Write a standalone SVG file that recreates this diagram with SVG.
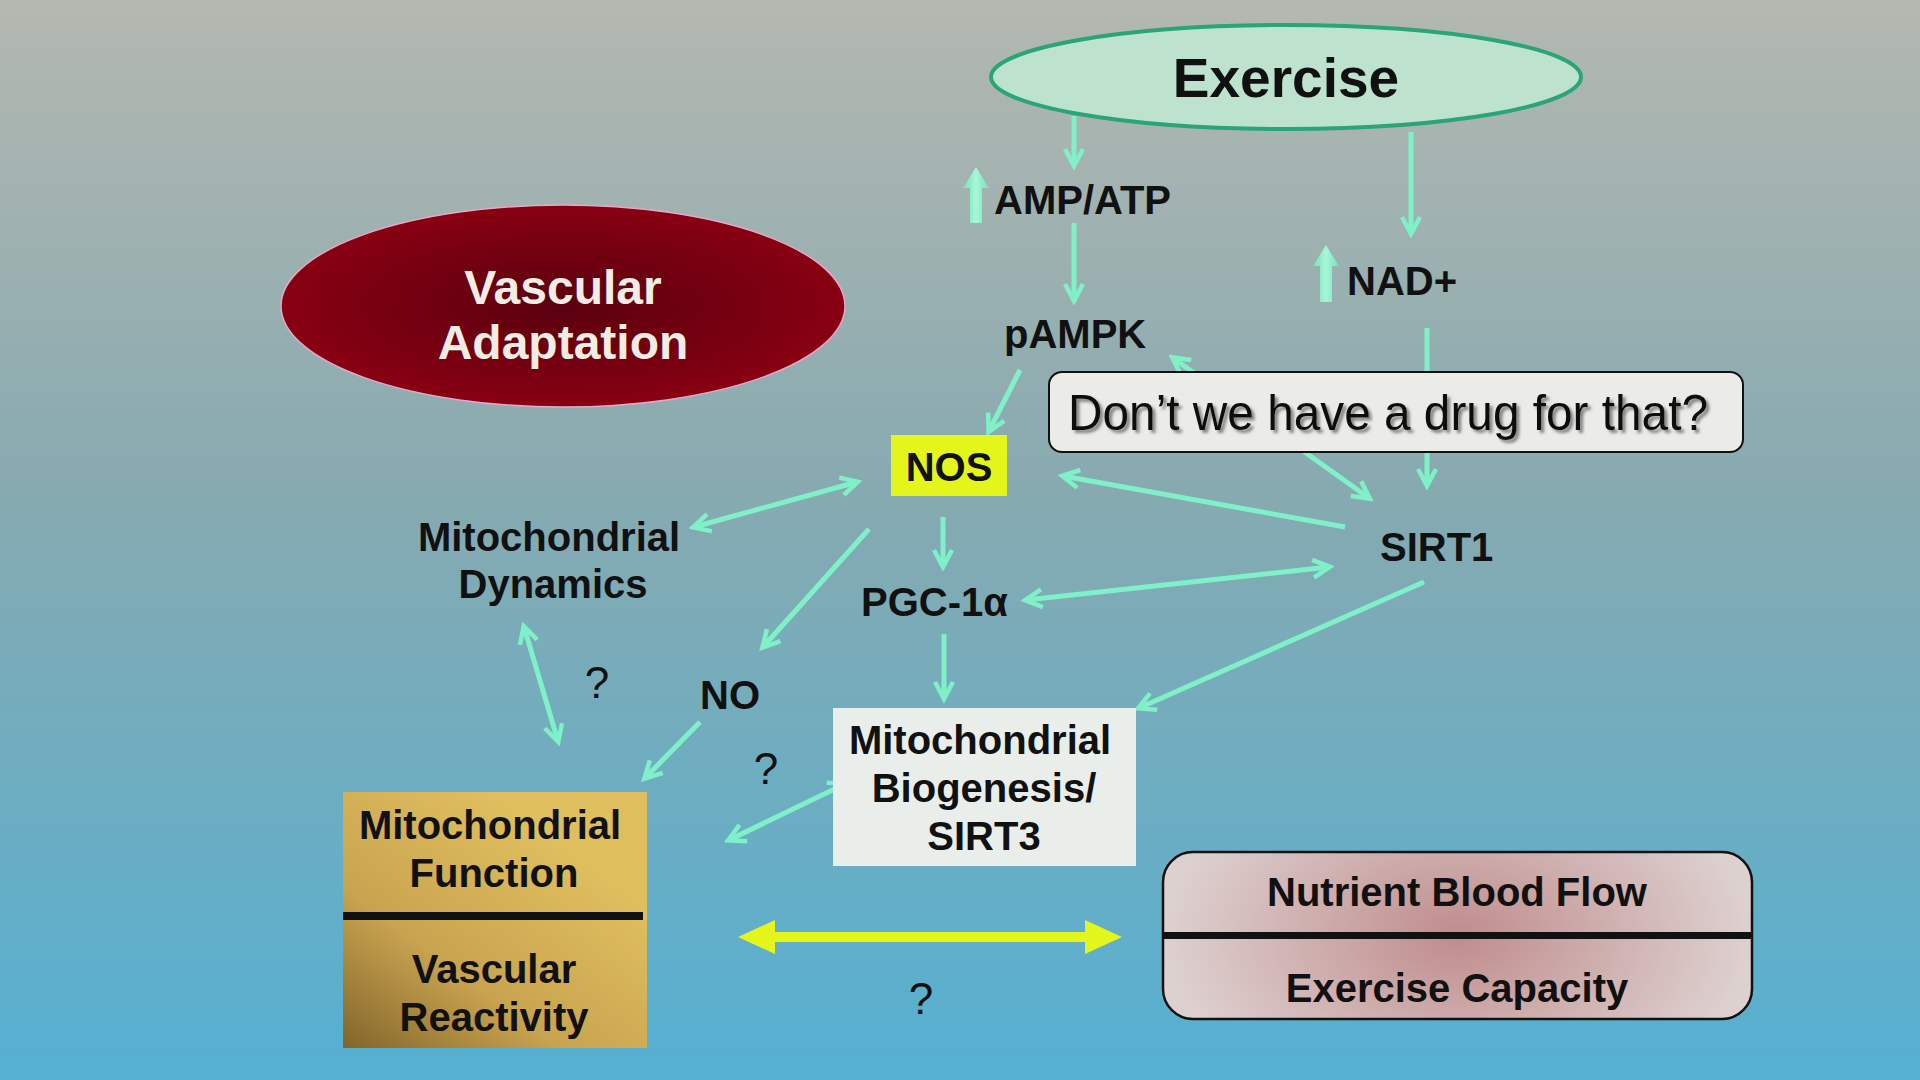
<svg xmlns="http://www.w3.org/2000/svg" width="1920" height="1080" viewBox="0 0 1920 1080">
<defs>
<linearGradient id="bg" x1="0" y1="0" x2="0" y2="1">
<stop offset="0" stop-color="#b4b8b0"/>
<stop offset="0.45" stop-color="#87aab0"/>
<stop offset="1" stop-color="#55b0d2"/>
</linearGradient>
<radialGradient id="vasc" cx="0.5" cy="0.5" r="0.5">
<stop offset="0" stop-color="#5a000f"/>
<stop offset="1" stop-color="#880012"/>
</radialGradient>
<linearGradient id="gold" x1="0" y1="1" x2="0.7" y2="0.2">
<stop offset="0" stop-color="#83652b"/>
<stop offset="0.45" stop-color="#c9a450"/>
<stop offset="1" stop-color="#dfbe5e"/>
</linearGradient>
<radialGradient id="pink" cx="0.5" cy="0.5" r="0.5" gradientTransform="translate(0.5 0.5) scale(1 2.2) translate(-0.5 -0.5)">
<stop offset="0" stop-color="#c08c8c"/>
<stop offset="1" stop-color="#ddd1d0"/>
</radialGradient>
<linearGradient id="upg" x1="0" y1="0" x2="1" y2="0">
<stop offset="0" stop-color="#6fe0b8"/>
<stop offset="0.5" stop-color="#a8f7d8"/>
<stop offset="1" stop-color="#6fe0b8"/>
</linearGradient>
<marker id="ah" viewBox="0 0 24 24" markerWidth="24" markerHeight="24" refX="19" refY="12" orient="auto-start-reverse" markerUnits="userSpaceOnUse">
<path d="M3,3 L20,12 L3,21" fill="none" stroke="#80f0c8" stroke-width="4.5" stroke-linejoin="miter"/>
</marker>
<filter id="sh" x="-5%" y="-20%" width="110%" height="140%">
<feDropShadow dx="3" dy="3" stdDeviation="1.5" flood-color="#555" flood-opacity="0.7"/>
</filter>
<style>
.lbl{font-family:"Liberation Sans",Arial,sans-serif;font-weight:bold;font-size:40px;fill:#111;}
.c{text-anchor:middle;}
.q{font-family:"Liberation Sans",Arial,sans-serif;font-size:44px;fill:#111;text-anchor:middle;}
.ln{stroke:#80f0c8;stroke-width:5;fill:none;}
.one{marker-end:url(#ah);}
.two{marker-start:url(#ah);marker-end:url(#ah);}
.up{fill:url(#upg);}
</style>
</defs>
<rect x="0" y="0" width="1920" height="1080" fill="url(#bg)"/>

<g id="connectors">
<line class="ln one" x1="1074" y1="116" x2="1074" y2="165"/>
<line class="ln one" x1="1074" y1="223" x2="1074" y2="300"/>
<line class="ln one" x1="1411" y1="132" x2="1411" y2="233"/>
<line class="ln one" x1="1427" y1="328" x2="1427" y2="485"/>
<line class="ln two" x1="1173" y1="358" x2="1369" y2="498"/>
<line class="ln one" x1="1020" y1="370" x2="989" y2="431"/>
<line class="ln one" x1="1345" y1="527" x2="1063" y2="476"/>
<line class="ln two" x1="857" y1="482" x2="694" y2="527"/>
<line class="ln one" x1="943" y1="517" x2="943" y2="566"/>
<line class="ln one" x1="869" y1="529" x2="763" y2="647"/>
<line class="ln two" x1="1329" y1="567" x2="1026" y2="600"/>
<line class="ln one" x1="944" y1="634" x2="944" y2="698"/>
<line class="ln one" x1="1424" y1="582" x2="1139" y2="708"/>
<line class="ln one" x1="700" y1="722" x2="645" y2="778"/>
<line class="ln two" x1="524" y1="627" x2="558" y2="741"/>
<line class="ln two" x1="845" y1="784" x2="729" y2="840"/>
<polygon points="738,937 775,920 775,932 1085,932 1085,920 1122,937 1085,954 1085,942 775,942 775,954" fill="#e4f51c"/>
</g>

<g id="exercise">
<ellipse cx="1286" cy="77" rx="295" ry="52" fill="#bde3cf" stroke="#2aa578" stroke-width="4"/>
<text class="lbl c" x="1286" y="97" style="font-size:55px">Exercise</text>
</g>

<g id="vascular-adaptation">
<ellipse cx="563" cy="306" rx="282" ry="101" fill="url(#vasc)" stroke="#e6a8c8" stroke-width="1.5"/>
<text class="lbl c" x="563" y="304" style="font-size:48px;fill:#f2ede4">Vascular</text>
<text class="lbl c" x="563" y="359" style="font-size:48px;fill:#f2ede4">Adaptation</text>
</g>

<g id="amp-atp">
<polygon class="up" points="970,223 970,188 963,188 976,167 989,188 982,188 982,223"/>
<text class="lbl" x="994" y="214">AMP/ATP</text>
</g>

<g id="nad">
<polygon class="up" points="1320,302 1320,266 1313,266 1326,245 1339,266 1332,266 1332,302"/>
<text class="lbl" x="1347" y="295">NAD+</text>
</g>

<g id="pampk">
<text class="lbl" x="1004" y="348">pAMPK</text>
</g>

<g id="callout">
<rect x="1049" y="372" width="694" height="80" rx="13" fill="#ebece8" stroke="#111" stroke-width="2"/>
<text x="1068" y="430" textLength="640" lengthAdjust="spacingAndGlyphs" filter="url(#sh)" style="font-family:'Liberation Sans',Arial,sans-serif;font-size:50px;fill:#111">Don’t we have a drug for that?</text>
</g>

<g id="sirt1">
<text class="lbl" x="1380" y="561">SIRT1</text>
</g>

<g id="nos">
<rect x="891" y="435" width="116" height="61" fill="#e4f51c"/>
<text class="lbl c" x="949" y="481">NOS</text>
</g>

<g id="mito-dynamics">
<text class="lbl c" x="549" y="551">Mitochondrial</text>
<text class="lbl c" x="553" y="598">Dynamics</text>
</g>

<g id="pgc">
<text class="lbl" x="861" y="616">PGC-1α</text>
</g>

<g id="no">
<text class="lbl" x="700" y="709">NO</text>
</g>

<g id="mito-biogenesis">
<rect x="833" y="708" width="303" height="158" fill="#e9eeea"/>
<text class="lbl c" x="980" y="754">Mitochondrial</text>
<text class="lbl c" x="984" y="802">Biogenesis/</text>
<text class="lbl c" x="984" y="850">SIRT3</text>
</g>

<g id="mito-function">
<rect x="343" y="792" width="304" height="256" fill="url(#gold)"/>
<rect x="343" y="912" width="300" height="8" fill="#111"/>
<text class="lbl c" x="490" y="839">Mitochondrial</text>
<text class="lbl c" x="494" y="887">Function</text>
<text class="lbl c" x="494" y="983">Vascular</text>
<text class="lbl c" x="494" y="1031">Reactivity</text>
</g>

<g id="nutrient">
<rect x="1163" y="852" width="589" height="167" rx="30" fill="url(#pink)" stroke="#111" stroke-width="2.5"/>
<rect x="1164" y="932" width="587" height="7" fill="#111"/>
<text class="lbl c" x="1457" y="906">Nutrient Blood Flow</text>
<text class="lbl c" x="1457" y="1002">Exercise Capacity</text>
</g>

<g id="questions">
<text class="q" x="597" y="698">?</text>
<text class="q" x="766" y="784">?</text>
<text class="q" x="921" y="1014">?</text>
</g>
</svg>
